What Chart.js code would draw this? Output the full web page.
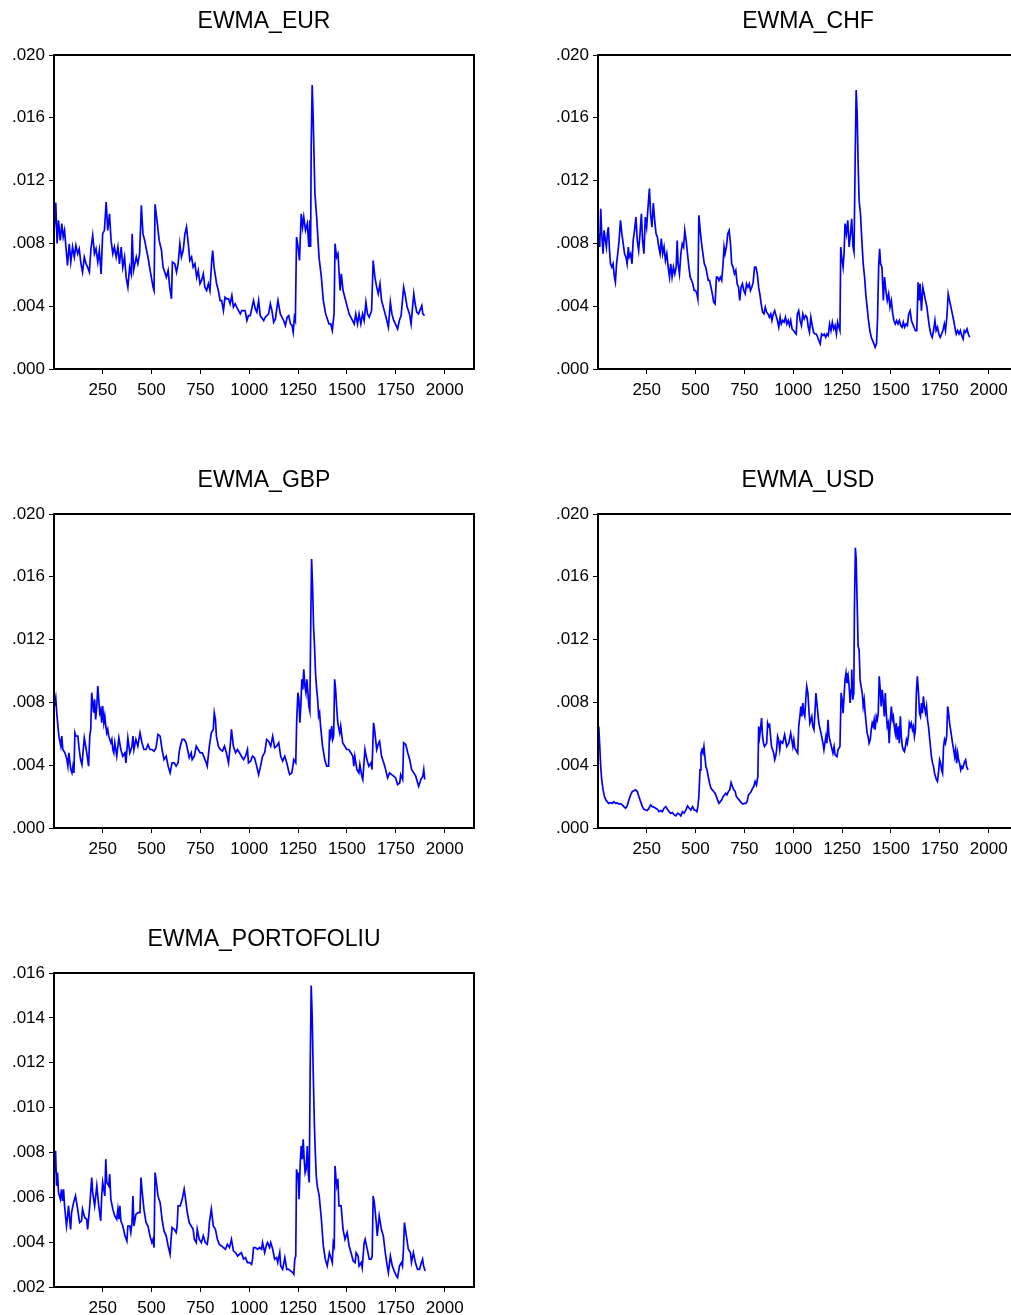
<!DOCTYPE html>
<html>
<head>
<meta charset="utf-8">
<script src="https://cdn.jsdelivr.net/npm/chart.js@4.4.1/dist/chart.umd.min.js"></script>
<style>
html, body { margin: 0; padding: 0; background: #fff; overflow: hidden; width: 1011px; height: 1315px; }
canvas { position: absolute; }
</style>
</head>
<body>
<canvas id="eurChart" width="490" height="409" style="left:0px;top:0px"></canvas>
<canvas id="chfChart" width="490" height="409" style="left:544px;top:0px"></canvas>
<canvas id="gbpChart" width="490" height="409" style="left:0px;top:459px"></canvas>
<canvas id="usdChart" width="490" height="409" style="left:544px;top:459px"></canvas>
<canvas id="portChart" width="490" height="409" style="left:0px;top:918px"></canvas>
<script>
const eurObs = [2,10,17,24,33,41,48,55,62,70,79,87,96,105,113,122,130,139,147,156,165,173,182,190,199,208,216,225,233,242,250,259,268,276,285,293,302,310,319,328,336,345,353,362,370,379,388,396,401,408,422,430,439,448,456,465,473,482,490,499,508,513,518,528,539,551,559,576,585,593,602,607,619,628,636,645,653,662,671,679,688,696,705,713,722,731,739,748,756,765,773,782,791,799,808,813,820,833,842,851,859,868,876,885,894,902,911,919,928,936,954,962,979,988,996,1005,1022,1031,1039,1048,1056,1074,1082,1099,1108,1116,1125,1134,1142,1147,1159,1176,1185,1194,1202,1211,1219,1225,1231,1236,1242,1250,1257,1266,1273,1279,1288,1297,1305,1310,1314,1317,1322,1327,1336,1345,1357,1369,1379,1391,1408,1417,1425,1434,1439,1447,1454,1465,1471,1480,1489,1502,1511,1528,1537,1545,1554,1562,1571,1580,1588,1597,1605,1614,1626,1634,1643,1652,1660,1669,1677,1686,1700,1712,1722,1730,1739,1748,1759,1768,1777,1790,1797,1808,1820,1828,1842,1849,1857,1866,1883,1888,1897];
const eurVals = [0.00883,0.0106,0.008,0.00947,0.00819,0.00926,0.0084,0.00883,0.00777,0.0066,0.00798,0.00681,0.00777,0.00713,0.00787,0.00734,0.00766,0.0067,0.00617,0.00713,0.0067,0.00649,0.00617,0.00766,0.00851,0.00734,0.00766,0.00681,0.00755,0.00606,0.00862,0.00883,0.01064,0.00883,0.00989,0.00819,0.00734,0.00777,0.00713,0.00777,0.0067,0.00777,0.00649,0.00713,0.00585,0.00521,0.00649,0.00606,0.00862,0.00628,0.00713,0.0067,0.00734,0.01043,0.00862,0.00819,0.00766,0.00713,0.00649,0.00585,0.00521,0.005,0.01049,0.00947,0.00819,0.00755,0.00649,0.00585,0.00628,0.00521,0.00447,0.00681,0.0067,0.00617,0.0067,0.00798,0.00713,0.00755,0.00862,0.00904,0.00798,0.00691,0.00713,0.00649,0.0067,0.00585,0.00628,0.00543,0.00564,0.00606,0.00521,0.005,0.00543,0.005,0.00691,0.00755,0.00649,0.00543,0.005,0.00436,0.00436,0.00372,0.00457,0.00447,0.00447,0.00415,0.00468,0.00394,0.00415,0.00394,0.00351,0.00372,0.00372,0.00309,0.0034,0.0034,0.00436,0.00383,0.00362,0.00436,0.0034,0.00309,0.0033,0.00351,0.00415,0.00372,0.00298,0.00319,0.00394,0.00436,0.00351,0.00309,0.00277,0.0033,0.0034,0.00287,0.00277,0.00234,0.0033,0.00309,0.0084,0.00777,0.00691,0.00989,0.00904,0.00968,0.00883,0.00926,0.00777,0.00947,0.00777,0.01415,0.01809,0.01606,0.01117,0.00968,0.00713,0.00585,0.00436,0.00351,0.00287,0.00287,0.00245,0.00351,0.00798,0.00713,0.00734,0.005,0.00606,0.005,0.00457,0.00394,0.00351,0.00309,0.00287,0.00351,0.00287,0.00351,0.00287,0.00351,0.00309,0.00426,0.00351,0.0033,0.00372,0.00691,0.00585,0.00521,0.00479,0.00543,0.00436,0.00394,0.0033,0.00266,0.00426,0.00351,0.00309,0.00287,0.00255,0.00309,0.0034,0.00521,0.00479,0.00394,0.00351,0.00287,0.00479,0.00415,0.00362,0.00351,0.00404,0.00351,0.0034];

const chfObs = [5,10,15,20,27,32,39,44,49,54,60,65,72,78,85,90,96,102,109,116,123,130,137,144,150,156,161,168,175,181,188,195,202,209,216,223,229,236,243,250,257,264,270,277,284,291,298,305,312,319,325,332,339,346,353,360,367,373,380,387,394,401,406,411,418,425,432,439,445,452,459,466,473,480,486,493,500,507,512,517,524,531,538,545,552,559,565,572,579,586,593,600,607,613,620,627,634,641,646,651,658,665,672,679,685,692,699,706,713,720,726,733,740,747,754,761,768,775,781,788,795,802,809,816,823,829,836,843,850,857,864,871,878,885,891,898,905,912,919,926,933,939,946,953,960,967,974,981,987,994,1001,1008,1015,1021,1028,1035,1042,1049,1056,1063,1070,1077,1083,1090,1097,1104,1111,1118,1125,1131,1138,1145,1152,1159,1166,1173,1179,1186,1193,1200,1207,1214,1221,1227,1234,1239,1243,1248,1255,1260,1265,1272,1279,1286,1293,1299,1306,1311,1317,1322,1327,1332,1337,1344,1351,1358,1365,1371,1378,1385,1392,1399,1406,1413,1419,1426,1431,1437,1442,1447,1454,1461,1467,1474,1481,1488,1495,1502,1509,1515,1522,1529,1536,1543,1550,1557,1563,1570,1577,1584,1591,1598,1605,1611,1618,1625,1632,1639,1644,1649,1656,1663,1670,1677,1684,1690,1697,1704,1711,1718,1725,1731,1738,1745,1752,1759,1766,1773,1779,1786,1793,1800,1807,1814,1821,1827,1834,1841,1848,1855,1862,1869,1875,1882,1889,1896,1903];
const chfVals = [0.00862,0.00777,0.01021,0.00862,0.00734,0.00883,0.00819,0.00777,0.00862,0.00904,0.00755,0.0067,0.00649,0.0067,0.00585,0.00553,0.0067,0.00734,0.00819,0.00947,0.00862,0.00798,0.00734,0.00713,0.0067,0.00777,0.00713,0.00734,0.0067,0.00819,0.00883,0.00968,0.00819,0.00755,0.00862,0.00989,0.00819,0.00734,0.00968,0.00904,0.0103,0.01149,0.00989,0.00904,0.01057,0.00947,0.00862,0.0084,0.00777,0.00734,0.0083,0.00734,0.00777,0.00691,0.00734,0.00649,0.00585,0.0067,0.00585,0.00649,0.00606,0.00649,0.00819,0.0067,0.00606,0.00734,0.00798,0.00777,0.00883,0.00819,0.00734,0.00649,0.00585,0.00564,0.00543,0.005,0.005,0.00479,0.00447,0.00979,0.00883,0.00798,0.00734,0.0067,0.00649,0.00606,0.00564,0.00564,0.00521,0.00479,0.00426,0.00415,0.00585,0.00585,0.00564,0.00585,0.00564,0.0067,0.00777,0.00734,0.00777,0.00862,0.00883,0.00798,0.0067,0.00649,0.00606,0.00628,0.00543,0.00521,0.00436,0.00521,0.00543,0.005,0.00479,0.00543,0.00521,0.00543,0.005,0.00521,0.00553,0.00649,0.00649,0.00606,0.00521,0.00479,0.00415,0.00362,0.00351,0.00394,0.00362,0.00351,0.0033,0.00351,0.00309,0.00351,0.00372,0.0034,0.00309,0.00266,0.0033,0.00287,0.00309,0.00298,0.0033,0.00287,0.00309,0.00277,0.00309,0.00255,0.00245,0.00234,0.00223,0.00351,0.00372,0.00309,0.00277,0.00351,0.00319,0.0034,0.0033,0.00266,0.00234,0.0033,0.00277,0.00234,0.00223,0.00223,0.00202,0.00181,0.0016,0.00223,0.00213,0.00223,0.00202,0.00223,0.00213,0.00287,0.00245,0.00298,0.00255,0.00277,0.00223,0.00298,0.00266,0.00245,0.00777,0.00713,0.00649,0.00734,0.00926,0.00862,0.00947,0.00777,0.00862,0.00957,0.00777,0.00745,0.01351,0.01777,0.01628,0.01309,0.01074,0.00989,0.00819,0.0067,0.00585,0.00479,0.00394,0.00309,0.00245,0.00202,0.00181,0.0016,0.00138,0.0016,0.00309,0.00649,0.00766,0.0067,0.00649,0.00436,0.00585,0.005,0.00436,0.00479,0.00394,0.00436,0.00351,0.00309,0.00287,0.00309,0.00287,0.00309,0.00277,0.00266,0.00298,0.00266,0.00287,0.00277,0.00351,0.00372,0.00309,0.00287,0.00266,0.00245,0.00245,0.00553,0.00436,0.00543,0.00372,0.00521,0.00479,0.00436,0.00394,0.0033,0.00266,0.00223,0.00202,0.00245,0.00309,0.00245,0.00266,0.00223,0.00202,0.00223,0.00245,0.00287,0.00245,0.0033,0.00479,0.00436,0.00394,0.00351,0.00309,0.00266,0.00223,0.00245,0.00223,0.00245,0.00213,0.00191,0.00245,0.00234,0.00255,0.00223,0.00202];

const gbpObs = [3,10,15,21,26,36,41,46,57,67,72,77,87,93,98,103,108,113,123,130,137,144,156,166,178,184,189,194,199,204,209,214,220,225,230,235,240,245,250,256,261,266,271,276,281,292,297,302,307,312,322,328,333,343,353,364,369,379,389,400,405,410,420,430,441,451,461,472,482,492,502,513,523,533,544,554,564,575,585,595,605,616,626,636,641,647,657,667,677,688,693,703,708,719,729,739,749,760,770,780,785,796,806,816,821,827,832,842,852,863,873,883,894,904,909,919,930,940,950,960,971,981,991,996,1007,1017,1027,1038,1048,1058,1068,1079,1089,1099,1110,1120,1130,1140,1151,1161,1171,1182,1192,1202,1207,1218,1228,1238,1243,1249,1254,1259,1264,1269,1274,1279,1285,1290,1295,1300,1305,1310,1315,1319,1324,1329,1334,1339,1345,1350,1355,1360,1365,1370,1375,1381,1386,1391,1396,1406,1411,1417,1422,1427,1432,1437,1442,1447,1453,1463,1468,1478,1489,1499,1509,1520,1530,1535,1540,1551,1561,1566,1576,1581,1592,1602,1612,1623,1628,1636,1641,1652,1662,1667,1677,1688,1698,1708,1718,1729,1739,1749,1759,1770,1775,1785,1790,1801,1811,1821,1831,1842,1852,1862,1867,1878,1888,1893,1898];
const gbpVals = [0.00777,0.0083,0.00734,0.00649,0.00585,0.00521,0.00585,0.005,0.00479,0.00436,0.00394,0.00479,0.00372,0.00351,0.00394,0.00351,0.00606,0.00585,0.00585,0.005,0.00436,0.00404,0.00574,0.005,0.00394,0.00585,0.00628,0.00862,0.00798,0.00734,0.00819,0.00691,0.00777,0.00904,0.00819,0.00734,0.00755,0.0067,0.00777,0.0067,0.00713,0.00649,0.00606,0.00628,0.00585,0.00543,0.00564,0.005,0.00479,0.00543,0.00457,0.00521,0.00574,0.005,0.00457,0.00479,0.00415,0.00574,0.00479,0.00521,0.00585,0.005,0.00564,0.00521,0.00606,0.00543,0.005,0.005,0.00532,0.005,0.005,0.00489,0.00511,0.00596,0.00585,0.005,0.00436,0.00457,0.00394,0.00351,0.00415,0.00415,0.00394,0.00415,0.00479,0.00521,0.00564,0.00564,0.00543,0.00479,0.00447,0.00479,0.00436,0.00457,0.00521,0.005,0.00479,0.00479,0.00447,0.00415,0.00394,0.00521,0.00606,0.00628,0.00734,0.00691,0.00585,0.00521,0.005,0.00489,0.00521,0.00479,0.00415,0.00543,0.00628,0.00521,0.00479,0.005,0.00479,0.00457,0.00436,0.00457,0.005,0.00415,0.00426,0.00457,0.00447,0.00394,0.0034,0.00394,0.00457,0.00479,0.00564,0.00553,0.00521,0.00585,0.00511,0.00521,0.00543,0.00457,0.00426,0.00457,0.00415,0.00362,0.0034,0.00351,0.00436,0.00415,0.00691,0.00862,0.00819,0.0067,0.00777,0.00947,0.00883,0.01011,0.00904,0.00862,0.00947,0.00862,0.00777,0.00745,0.0133,0.01713,0.01543,0.01287,0.0116,0.00989,0.00883,0.00819,0.00713,0.00734,0.00649,0.00585,0.00521,0.00479,0.00436,0.00415,0.00394,0.00394,0.00628,0.00585,0.00649,0.00564,0.00585,0.00947,0.00883,0.00777,0.0067,0.00606,0.00649,0.00543,0.00521,0.005,0.005,0.00479,0.00457,0.00394,0.00457,0.00372,0.00351,0.00404,0.0033,0.00309,0.005,0.00436,0.00394,0.00415,0.00372,0.0067,0.00628,0.005,0.00543,0.00553,0.00457,0.00415,0.00372,0.00319,0.00351,0.0034,0.0033,0.00319,0.00277,0.00287,0.0034,0.00309,0.00543,0.00532,0.00479,0.00436,0.00372,0.00351,0.0033,0.00287,0.00266,0.00309,0.0033,0.00372,0.00309];

const usdObs = [5,10,15,20,27,34,41,48,56,65,73,82,90,99,108,116,125,133,142,150,159,168,176,185,193,202,210,219,228,236,245,253,262,270,279,288,296,305,313,322,330,339,348,356,365,373,382,391,399,408,416,425,433,442,451,459,468,476,485,493,502,507,512,517,523,528,533,538,543,548,553,559,565,572,579,586,593,600,607,613,620,627,634,641,648,655,661,668,675,682,689,696,703,709,716,723,730,737,744,750,757,764,771,778,785,792,798,805,812,819,823,828,833,838,843,848,853,864,869,874,879,884,889,900,905,910,915,920,925,931,936,946,956,967,977,987,998,1003,1008,1018,1023,1028,1034,1039,1044,1049,1054,1059,1064,1069,1075,1080,1085,1095,1100,1106,1111,1116,1121,1126,1131,1142,1152,1157,1167,1172,1178,1183,1193,1203,1209,1214,1224,1229,1239,1245,1250,1255,1260,1265,1270,1275,1281,1286,1291,1296,1299,1305,1310,1313,1318,1322,1327,1332,1337,1342,1347,1353,1358,1363,1368,1373,1378,1383,1388,1394,1399,1404,1409,1414,1419,1425,1430,1435,1440,1445,1450,1455,1460,1466,1471,1476,1481,1486,1491,1497,1502,1507,1512,1517,1522,1527,1532,1538,1543,1548,1553,1558,1563,1569,1574,1579,1584,1589,1594,1599,1604,1610,1615,1620,1625,1630,1635,1641,1646,1651,1656,1661,1666,1671,1677,1682,1687,1692,1697,1702,1707,1713,1718,1723,1728,1733,1738,1743,1749,1754,1759,1764,1769,1774,1779,1785,1790,1795,1800,1805,1810,1815,1821,1826,1831,1836,1841,1846,1851,1857,1862,1867,1872,1877,1882,1887,1894];
const usdVals = [0.00647,0.00519,0.00391,0.00306,0.00243,0.002,0.00179,0.00168,0.00157,0.00162,0.00157,0.00168,0.00157,0.0016,0.00153,0.00155,0.00147,0.00136,0.00126,0.0014,0.00179,0.00211,0.00232,0.00238,0.00243,0.00232,0.002,0.00168,0.00136,0.00119,0.00115,0.00111,0.00126,0.00147,0.00136,0.00132,0.00126,0.00119,0.00104,0.00111,0.00104,0.00126,0.00136,0.00119,0.00104,0.00094,0.00098,0.00083,0.00077,0.00094,0.00089,0.00077,0.00104,0.00094,0.00115,0.0014,0.00126,0.00115,0.00136,0.00115,0.00111,0.00104,0.00136,0.002,0.0037,0.00477,0.00498,0.00477,0.00519,0.00455,0.00391,0.0037,0.00328,0.00285,0.00253,0.00243,0.00232,0.00221,0.002,0.00179,0.00157,0.00168,0.00179,0.002,0.00211,0.00221,0.00211,0.00232,0.00243,0.00289,0.00264,0.00243,0.00232,0.002,0.00189,0.00179,0.00168,0.00157,0.00153,0.00157,0.00157,0.00168,0.00211,0.00221,0.00232,0.00253,0.00264,0.00296,0.00274,0.00328,0.00647,0.00583,0.00636,0.007,0.00583,0.0054,0.00519,0.0054,0.00668,0.00647,0.00657,0.00583,0.00519,0.00477,0.00434,0.00455,0.00498,0.00583,0.00562,0.00498,0.00551,0.0054,0.00594,0.00519,0.0054,0.00604,0.00519,0.00562,0.00509,0.00487,0.00477,0.00647,0.00711,0.00774,0.00711,0.00796,0.00732,0.00711,0.00817,0.00902,0.0086,0.00753,0.00668,0.00711,0.00647,0.00626,0.00732,0.0086,0.00796,0.00732,0.00668,0.00604,0.0054,0.00498,0.00583,0.0054,0.00689,0.00583,0.0053,0.00477,0.00519,0.00466,0.00455,0.00498,0.00519,0.0086,0.00817,0.00732,0.00838,0.00945,0.00987,0.00923,0.00966,0.00902,0.00796,0.00881,0.01009,0.00817,0.0086,0.01391,0.01785,0.01711,0.01434,0.01157,0.01136,0.00945,0.00902,0.0086,0.00774,0.00817,0.00732,0.00668,0.00604,0.00583,0.0054,0.00562,0.00626,0.00668,0.00647,0.00689,0.00626,0.00711,0.00689,0.00732,0.00966,0.00881,0.00774,0.00881,0.00817,0.00711,0.0086,0.00732,0.00647,0.00668,0.0054,0.00689,0.00774,0.00689,0.00711,0.00647,0.00604,0.00668,0.00562,0.00647,0.0054,0.00711,0.00583,0.00519,0.00498,0.00487,0.00519,0.00562,0.0054,0.00583,0.00668,0.00647,0.00668,0.00626,0.00647,0.00583,0.00626,0.0086,0.00966,0.0086,0.00732,0.00711,0.00796,0.00732,0.00838,0.00774,0.00732,0.00774,0.00689,0.00647,0.00583,0.00519,0.00455,0.00413,0.00391,0.00349,0.00328,0.00306,0.00296,0.00349,0.00434,0.00413,0.0037,0.00349,0.00519,0.00562,0.0054,0.00583,0.00774,0.00732,0.00668,0.00626,0.00583,0.0054,0.00498,0.00455,0.00498,0.00413,0.00477,0.00434,0.00413,0.0037,0.00391,0.00381,0.00402,0.00423,0.00434,0.00391,0.0037];

const portObs = [3,9,14,19,24,34,39,45,50,55,65,70,75,86,91,101,111,122,132,142,147,158,168,173,184,194,199,209,220,230,240,245,250,261,266,271,281,286,292,302,312,322,328,333,338,343,353,364,374,379,389,394,400,405,410,420,430,441,446,451,461,472,482,492,502,508,513,518,523,533,544,554,564,575,585,595,600,605,616,626,631,636,647,657,667,672,683,693,703,713,719,729,734,744,755,765,775,785,791,796,806,816,827,837,847,858,868,878,888,899,909,919,930,940,950,960,971,981,991,1002,1012,1017,1022,1032,1043,1053,1063,1068,1079,1089,1094,1104,1110,1120,1130,1140,1146,1156,1161,1171,1182,1192,1202,1213,1223,1228,1233,1238,1242,1247,1250,1255,1261,1266,1271,1276,1281,1286,1291,1297,1302,1307,1312,1317,1322,1327,1333,1338,1343,1348,1358,1369,1379,1389,1399,1410,1420,1425,1430,1435,1439,1444,1449,1454,1459,1470,1480,1490,1501,1511,1521,1532,1542,1547,1557,1562,1573,1578,1588,1593,1604,1614,1624,1629,1634,1640,1650,1655,1665,1676,1686,1696,1706,1712,1722,1732,1742,1753,1759,1769,1779,1784,1789,1794,1804,1814,1825,1830,1840,1850,1861,1871,1881,1887,1892,1900];
const portVals = [0.0071,0.00807,0.00651,0.0071,0.00621,0.00591,0.00636,0.00584,0.00636,0.00562,0.00472,0.0051,0.00562,0.00457,0.00532,0.00576,0.00606,0.00547,0.00487,0.00495,0.00547,0.0051,0.00502,0.00457,0.00562,0.00688,0.00621,0.00562,0.00651,0.00562,0.00495,0.00606,0.00666,0.00606,0.0077,0.00666,0.00651,0.00703,0.00591,0.00547,0.00517,0.00502,0.00547,0.00502,0.00562,0.00495,0.00472,0.00428,0.00405,0.00472,0.00472,0.00443,0.00487,0.00606,0.00472,0.00524,0.00532,0.00532,0.00688,0.00636,0.00547,0.00487,0.00472,0.00428,0.00398,0.00413,0.00376,0.0071,0.00681,0.00606,0.00576,0.00502,0.0045,0.00428,0.00383,0.00346,0.00413,0.00465,0.00457,0.00443,0.00472,0.00562,0.00562,0.00591,0.00636,0.00606,0.00532,0.00487,0.00472,0.00457,0.00413,0.00398,0.00457,0.00413,0.00398,0.00428,0.00398,0.0039,0.00428,0.00487,0.00547,0.00472,0.00457,0.00413,0.0039,0.00383,0.00376,0.00368,0.0039,0.00376,0.00413,0.00361,0.00353,0.00338,0.00346,0.00353,0.00324,0.00331,0.00309,0.00309,0.00301,0.00324,0.00376,0.00376,0.00368,0.00376,0.00368,0.00398,0.00353,0.0039,0.00398,0.00376,0.00398,0.00368,0.00324,0.00331,0.00309,0.00353,0.00294,0.00279,0.00331,0.00279,0.00279,0.00271,0.00264,0.00257,0.00324,0.00338,0.00725,0.00681,0.0071,0.00591,0.00755,0.00829,0.0077,0.00859,0.0077,0.0071,0.00725,0.00829,0.0071,0.00666,0.01187,0.01544,0.0141,0.01172,0.00934,0.008,0.00696,0.00651,0.00606,0.00502,0.00383,0.00324,0.00294,0.00353,0.00324,0.00309,0.00398,0.00383,0.0074,0.00681,0.00651,0.00666,0.00562,0.00562,0.00457,0.00413,0.00443,0.00383,0.00353,0.00316,0.00309,0.00353,0.00338,0.00294,0.00309,0.00286,0.00398,0.00413,0.00368,0.00324,0.00324,0.00338,0.00606,0.00576,0.00487,0.00428,0.00517,0.00457,0.00428,0.00353,0.00294,0.00264,0.00338,0.00294,0.00271,0.00249,0.00242,0.00294,0.00309,0.00294,0.00368,0.00487,0.00428,0.00368,0.00353,0.00309,0.00353,0.00309,0.00279,0.00279,0.00309,0.00324,0.00294,0.00271];

const xTickStep = 250;

// draws the box round the plot area
const frame = {
    id: 'frame',
    afterDraw(chart) {
        const { ctx, chartArea: a } = chart;
        ctx.save();
        ctx.strokeStyle = '#000';
        ctx.lineWidth = 2;
        ctx.strokeRect(a.left, a.top, a.right - a.left, a.bottom - a.top);
        ctx.restore();
    }
};

const tickFont = { family: 'Liberation Sans, Arial, sans-serif', size: 17 };

function makePanel(id, title, obs, vals, yMin, yMax, yStep) {
    new Chart(document.getElementById(id), {
        type: 'line',
        data: {
            datasets: [{
                label: title,
                data: obs.map((t, i) => ({ x: t, y: vals[i] })),
                borderColor: '#0000ff',
                borderWidth: 1.7,
                pointRadius: 0,
                tension: 0,
                fill: false
            }]
        },
        options: {
            responsive: false,
            animation: false,
            devicePixelRatio: 1,
            layout: { padding: { left: 0, right: 16, top: 0, bottom: 0 } },
            plugins: {
                legend: { display: false },
                tooltip: { enabled: false },
                title: {
                    display: true,
                    text: title,
                    fullSize: false,
                    color: '#000',
                    font: { family: 'Liberation Sans, Arial, sans-serif', size: 23, weight: 'normal' },
                    padding: { top: 7.5, bottom: 19.9 }
                }
            },
            scales: {
                x: {
                    type: 'linear',
                    min: 1,
                    max: 2150,
                    ticks: {
                        stepSize: xTickStep,
                        includeBounds: false,
                        autoSkip: false,
                        maxRotation: 0,
                        color: '#000',
                        font: tickFont,
                        padding: 6,
                        callback: v => String(v)
                    },
                    grid: { drawOnChartArea: false, drawTicks: true, tickLength: 5, color: '#000' },
                    border: { display: true, color: '#000', width: 2 },
                    afterFit: s => { s.height = 40; }
                },
                y: {
                    min: yMin,
                    max: yMax,
                    ticks: {
                        stepSize: yStep,
                        color: '#000',
                        font: tickFont,
                        padding: 4,
                        callback: v => v.toFixed(3).replace(/^0/, '')
                    },
                    grid: { drawOnChartArea: false, drawTicks: true, tickLength: 5, color: '#000' },
                    border: { display: true, color: '#000', width: 2 },
                    afterFit: s => { s.width = 54; }
                }
            }
        },
        plugins: [frame]
    });
}

makePanel('eurChart', 'EWMA_EUR', eurObs, eurVals, 0, 0.02, 0.004);
makePanel('chfChart', 'EWMA_CHF', chfObs, chfVals, 0, 0.02, 0.004);
makePanel('gbpChart', 'EWMA_GBP', gbpObs, gbpVals, 0, 0.02, 0.004);
makePanel('usdChart', 'EWMA_USD', usdObs, usdVals, 0, 0.02, 0.004);
makePanel('portChart', 'EWMA_PORTOFOLIU', portObs, portVals, 0.002, 0.016, 0.002);
</script>
</body>
</html>
